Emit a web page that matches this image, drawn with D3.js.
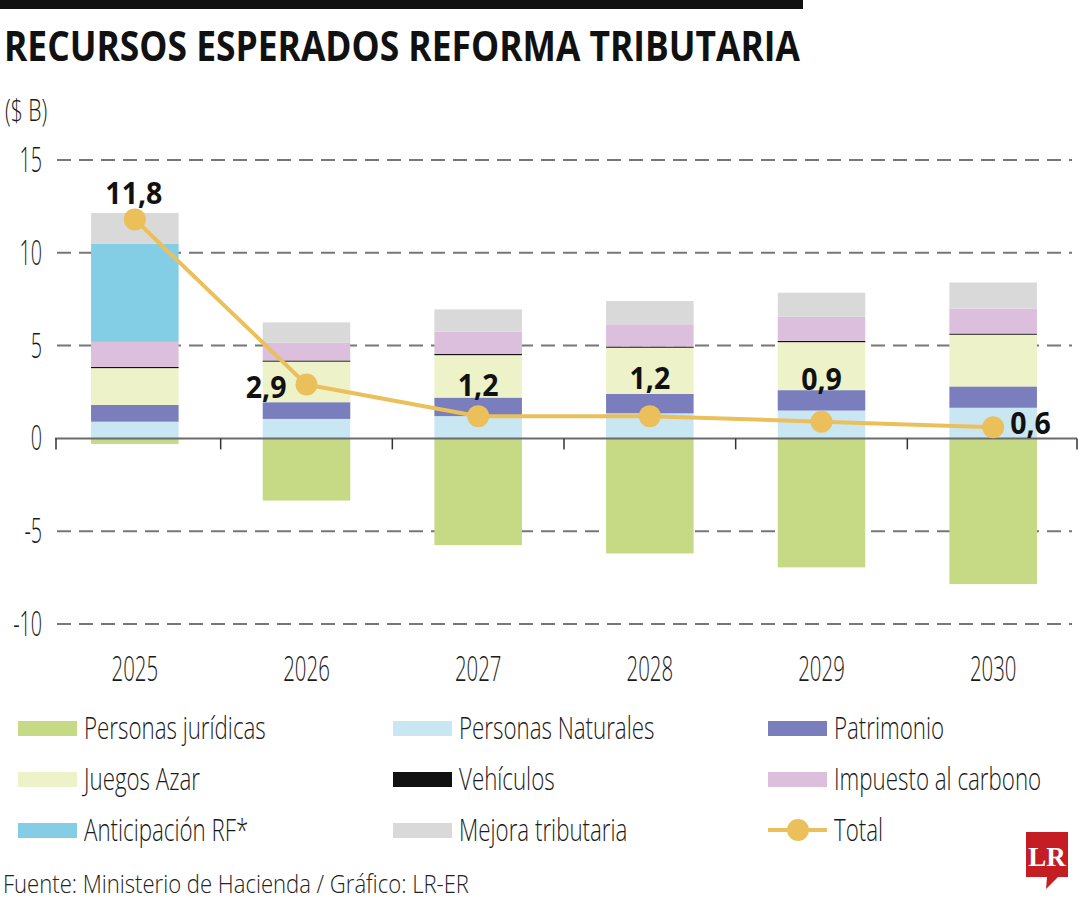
<!DOCTYPE html>
<html>
<head>
<meta charset="utf-8">
<script src="https://cdn.jsdelivr.net/npm/d3@7"></script>
<style>
  html, body { margin: 0; padding: 0; background: #fff; }
  svg { display: block; }
</style>
</head>
<body>
<svg id="chart" width="1080" height="900"></svg>
<script>
// ---------------- DATA ----------------
const years = ["2025", "2026", "2027", "2028", "2029", "2030"];
const personasJuridicas  = [-0.3, -3.35, -5.75, -6.2, -6.95, -7.85];
const personasNaturales  = [0.9, 1.05, 1.2, 1.35, 1.5, 1.65];
const patrimonio         = [0.9, 0.9, 1.0, 1.05, 1.1, 1.15];
const juegosAzar         = [2.0, 2.2, 2.3, 2.5, 2.6, 2.8];
const vehiculos          = [0.05, 0.05, 0.05, 0.05, 0.05, 0.05];
const impuestoCarbono    = [1.35, 0.95, 1.2, 1.2, 1.3, 1.35];
const anticipacionRF     = [5.3, 0, 0, 0, 0, 0];
const mejoraTributaria   = [1.65, 1.1, 1.2, 1.25, 1.3, 1.4];
const total              = [11.8, 2.9, 1.2, 1.2, 0.9, 0.6];
const yTicks = [-10, -5, 0, 5, 10, 15];

const seriesNames = ["Personas jurídicas", "Personas Naturales", "Patrimonio", "Juegos Azar",
  "Vehículos", "Impuesto al carbono", "Anticipación RF*", "Mejora tributaria"];
const seriesValues = [personasJuridicas, personasNaturales, patrimonio, juegosAzar,
  vehiculos, impuestoCarbono, anticipacionRF, mejoraTributaria];
const seriesColors = ["#c6da86", "#c9e7f3", "#7a7ebd", "#eef2c9", "#111111", "#dcbfdc", "#84cee5", "#d9d9d9"];
const lineColor = "#ebc05b";

// ---------------- LAYOUT ----------------
const svg = d3.select("#chart");
const plotLeft = 49, plotRight = 1079;
const LIGHT = "'Open Sans', 'Noto Sans', sans-serif";

const x = d3.scaleBand().domain(years).range([plotLeft, plotRight])
  .paddingInner(0.49).paddingOuter(0.245);
const y = d3.scaleLinear().domain([-10, 15]).range([624, 160]);

// helper for condensed text
function ctext(parent, tx, ty, str, opts) {
  const g = parent.append("g").attr("transform", `translate(${tx},${ty}) scale(${opts.sx || 1},1)`);
  return g.append("text").attr("x", 0).attr("y", 0)
    .attr("text-anchor", opts.anchor || "start")
    .attr("font-family", opts.family || LIGHT)
    .attr("font-size", opts.size)
    .attr("font-weight", opts.weight || 300)
    .attr("fill", opts.fill || "#1a1a1a")
    .text(str);
}

// top bar
svg.append("rect").attr("x", 0).attr("y", 0).attr("width", 803).attr("height", 9).attr("fill", "#111");

// title
svg.append("text").attr("x", 4).attr("y", 61)
  .attr("font-family", "'Open Sans', sans-serif").attr("font-weight", 700).attr("font-size", 41)
  .attr("textLength", 796).attr("lengthAdjust", "spacingAndGlyphs").attr("fill", "#111")
  .text("RECURSOS ESPERADOS REFORMA TRIBUTARIA");

// unit
ctext(svg, 5, 121, "($ B)", { size: 32, sx: 0.66 });

// gridlines (behind bars)
const grid = svg.append("g");
yTicks.filter(d => d !== 0).forEach(v => {
  grid.append("line").attr("x1", 57).attr("x2", 1072)
    .attr("y1", y(v)).attr("y2", y(v))
    .attr("stroke", "#777").attr("stroke-width", 2).attr("stroke-dasharray", "14,8");
});

// y tick labels
yTicks.forEach(v => {
  ctext(svg, 42, y(v) + 12, String(v), { size: 34, sx: 0.58, anchor: "end" });
});

// stacked bars
const table = years.map((yr, i) => {
  const row = { year: yr };
  seriesNames.forEach((n, k) => row[n] = seriesValues[k][i]);
  return row;
});
const stacked = d3.stack().keys(seriesNames).offset(d3.stackOffsetDiverging)(table);

const bars = svg.append("g");
stacked.forEach((layer, k) => {
  bars.append("g").attr("fill", seriesColors[k])
    .selectAll("rect").data(layer.filter(d => d[1] !== d[0])).join("rect")
    .attr("x", d => x(d.data.year))
    .attr("width", x.bandwidth())
    .attr("y", d => y(Math.max(d[0], d[1])))
    .attr("height", d => Math.max(1.2, Math.abs(y(d[0]) - y(d[1]))));
});

// zero axis line with ticks at band boundaries
const step = x.step();
svg.append("line").attr("x1", 55).attr("x2", 1077).attr("y1", y(0)).attr("y2", y(0))
  .attr("stroke", "#6b6b6b").attr("stroke-width", 2);
d3.range(years.length + 1).forEach(i => {
  const tx = Math.min(1077, Math.max(56, plotLeft + i * step));
  svg.append("line").attr("x1", tx).attr("x2", tx).attr("y1", y(0)).attr("y2", y(0) + 11)
    .attr("stroke", "#333").attr("stroke-width", 1.5);
});

// year labels
years.forEach(yr => {
  ctext(svg, x(yr) + x.bandwidth() / 2, 681, yr, { size: 34, sx: 0.6, anchor: "middle" });
});

// total line
const cx = i => x(years[i]) + x.bandwidth() / 2;
const line = d3.line().x((d, i) => cx(i)).y(d => y(d));
svg.append("path").datum(total).attr("d", line)
  .attr("fill", "none").attr("stroke", lineColor).attr("stroke-width", 4);
svg.append("g").selectAll("circle").data(total).join("circle")
  .attr("cx", (d, i) => cx(i)).attr("cy", d => y(d)).attr("r", 11).attr("fill", lineColor);

// value labels
const fmt = v => d3.format(".1f")(v).replace(".", ",");
const labelPlacement = [
  { dx: -1, dy: -15, anchor: "middle" },
  { dx: -20, dy: 13, anchor: "end" },
  { dx: 0, dy: -20, anchor: "middle" },
  { dx: 0, dy: -27, anchor: "middle" },
  { dx: 0, dy: -32, anchor: "middle" },
  { dx: 17, dy: 7, anchor: "start" }
];
total.forEach((v, i) => {
  const p = labelPlacement[i];
  ctext(svg, cx(i) + p.dx, y(v) + p.dy, fmt(v), { size: 31, sx: 0.92, anchor: p.anchor, weight: 700, fill: "#111" });
});

// legend
const legendItems = seriesNames.map((n, k) => ({ name: n, color: seriesColors[k], type: "rect" }));
legendItems.push({ name: "Total", color: lineColor, type: "line" });
const colX = [18, 393, 768];
const rowY = [728, 779, 830];
legendItems.forEach((it, j) => {
  const lx = colX[j % 3], ly = rowY[Math.floor(j / 3)];
  if (it.type === "rect") {
    svg.append("rect").attr("x", lx).attr("y", ly - 7).attr("width", 59).attr("height", 15).attr("fill", it.color);
  } else {
    svg.append("line").attr("x1", lx).attr("x2", lx + 59).attr("y1", ly).attr("y2", ly)
      .attr("stroke", it.color).attr("stroke-width", 4);
    svg.append("circle").attr("cx", lx + 30).attr("cy", ly).attr("r", 11).attr("fill", it.color);
  }
  ctext(svg, lx + 66, ly + 11, it.name, { size: 31, sx: 0.72 });
});

// footer
svg.append("text").attr("x", 3).attr("y", 893)
  .attr("font-family", LIGHT).attr("font-weight", 300).attr("font-size", 25)
  .attr("textLength", 466).attr("lengthAdjust", "spacingAndGlyphs").attr("fill", "#222")
  .text("Fuente: Ministerio de Hacienda / Gráfico: LR-ER");

// logo
const logo = svg.append("g");
logo.append("path")
  .attr("d", "M1026,832 H1068 V877 H1058 L1046,889 L1047,877 H1026 Z")
  .attr("fill", "#c41e24");
logo.append("text").attr("x", 1047).attr("y", 866).attr("text-anchor", "middle")
  .attr("font-family", "'Liberation Serif', 'DejaVu Serif', serif").attr("font-weight", 700)
  .attr("font-size", 27).attr("fill", "#fff").text("LR");
</script>
</body>
</html>
